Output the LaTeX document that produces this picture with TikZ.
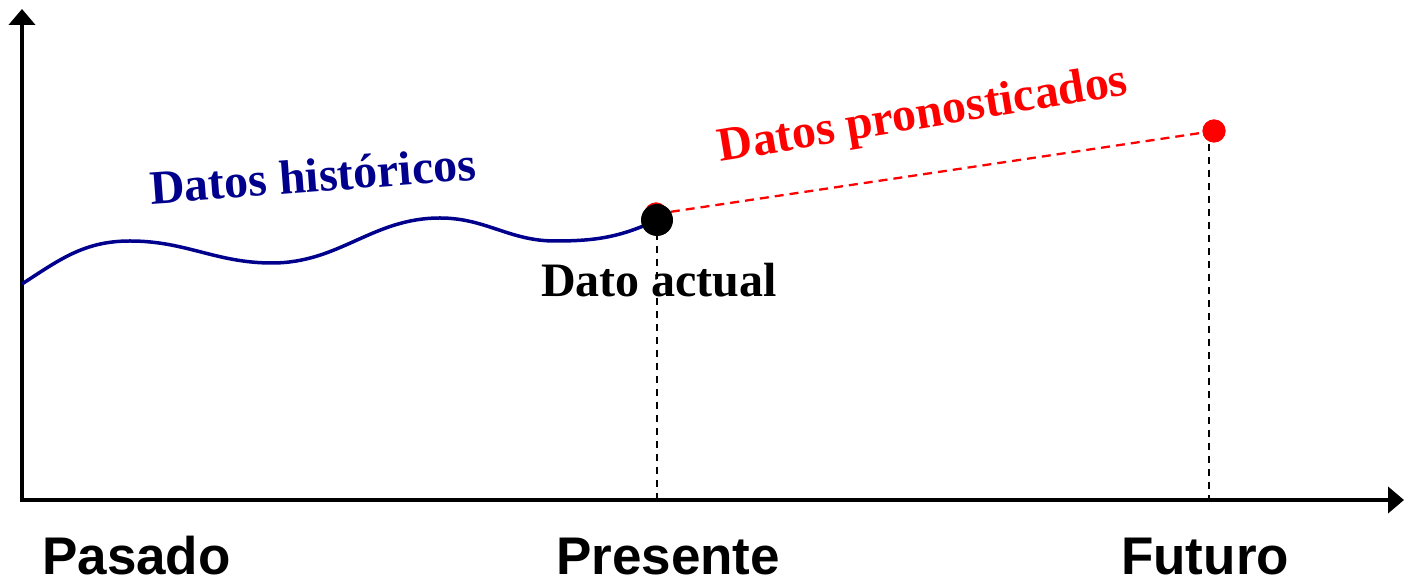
\documentclass[tikz,border=0pt]{standalone}
\usepackage{fontspec}
\setmainfont{Liberation Serif}
\setsansfont{Liberation Sans}
\usepackage{tikz}
\usetikzlibrary{arrows.meta,positioning,calc}
\definecolor{histblue}{RGB}{0,0,140}
\tikzstyle{axis}=[draw, line width=4.5pt, -{Triangle[width=26pt,length=16pt]}]
\tikzstyle{guide}=[draw, line width=2.8pt, dash pattern=on 7pt off 6pt]
\tikzstyle{forecast}=[draw, red, line width=2.3pt, dash pattern=on 9pt off 6pt]
\tikzstyle{history}=[draw, line width=3.5pt, color=histblue]
\tikzstyle{dot}=[circle, fill=black, inner sep=0pt, minimum size=32pt]
\tikzstyle{reddot}=[circle, fill=red, inner sep=0pt, minimum size=23pt]
\tikzstyle{timelabel}=[anchor=base west, inner sep=0pt, font=\sffamily\bfseries\fontsize{53}{60}\selectfont]
\tikzstyle{serie}=[anchor=base, inner sep=0pt, font=\bfseries\fontsize{48}{56}\selectfont]

\begin{document}
\begin{tikzpicture}[x=1pt,y=1pt]
	\useasboundingbox (0,0) rectangle (1408,580);

	% axes
	\coordinate (o) at (22,80);
	\coordinate (ytip) at (22,571);
	\coordinate (xtip) at (1404,80);
	\path [axis] (o) -- (ytip);
	\path [axis] ([xshift=-2pt]o) -- (xtip);

	% points
	\node (prevred) [reddot] at (656,366) {};
	\node (fut) [reddot] at (1214,449) {};
	\coordinate (pres) at (657,360);

	% guides and forecast
	\path [guide] (pres) -- (pres |- o);
	\path [guide] ([xshift=-5pt]fut.center) -- ([xshift=-5pt]fut.center |- o);
	\path [forecast] (prevred.center) -- (fut.center);
	\node [reddot] at (prevred) {};
	\node [reddot] at (fut) {};

	% historical series
	\path [history] (22,296) to[out=33,in=180] (130,339)
		to[out=0,in=180] (272,317)
		to[out=0,in=180] (440,362)
		to[out=0,in=180] (555,339)
		to[out=0,in=205] (pres);
	\node (presdot) [dot] at (pres) {};

	% labels
	\node (hist) [serie, text=histblue, rotate=4.3] at (314,388) {Datos históricos};
	\node (prono) [serie, text=red, rotate=9.4] at (925,452) {Datos pronosticados};
	\node (actual) [serie] at (659,283) {Dato actual};
	\node (pasado) [timelabel] at (42,5) {Pasado};
	\node (presente) [timelabel] at (556,5) {Presente};
	\node (futuro) [timelabel] at (1121,5) {Futuro};
\end{tikzpicture}
\end{document}
